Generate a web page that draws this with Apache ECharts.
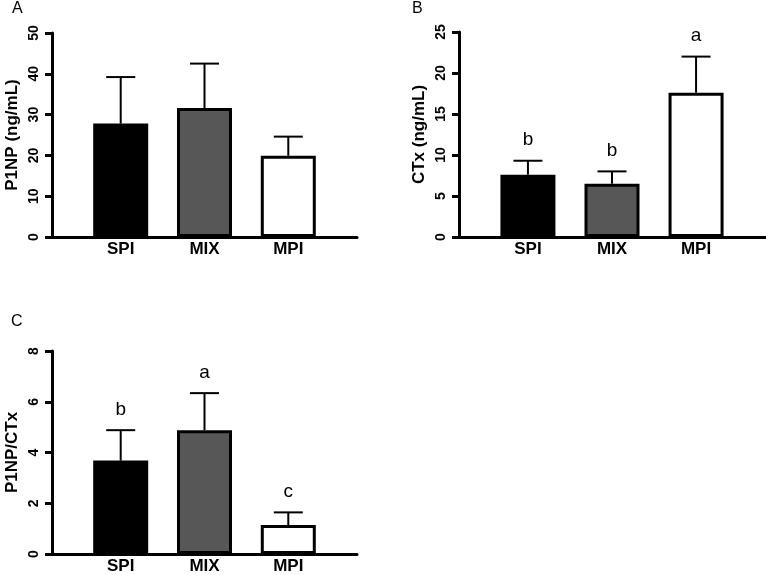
<!DOCTYPE html>
<html>
<head>
<meta charset="utf-8">
<script src="https://cdn.jsdelivr.net/npm/echarts@6/dist/echarts.min.js"></script>
<style>
  html, body { margin: 0; padding: 0; background: #fff; }
  #main { width: 766px; height: 575px; }
</style>
</head>
<body>
<div id="main"></div>
<script>
// groups on the x axis (positions 1, 2, 3)
const groups = ['SPI', 'MIX', 'MPI'];
const fills = ['#000000', '#575757', '#ffffff'];

// A: P1NP (ng/mL)
const p1npMean = [27.8, 31.6, 19.9];
const p1npUpper = [39.2, 42.5, 24.6];
// B: CTx (ng/mL)
const ctxMean = [7.6, 6.5, 17.6];
const ctxUpper = [9.3, 8.0, 22.0];
const ctxLetters = ['b', 'b', 'a'];
// C: P1NP/CTx
const ratioMean = [3.68, 4.88, 1.14];
const ratioUpper = [4.88, 6.34, 1.64];
const ratioLetters = ['b', 'a', 'c'];

const FONT = 'Liberation Sans, Arial, Helvetica, sans-serif';

const chart = echarts.init(document.getElementById('main'));

function xAxisFor(gridIndex) {
  return {
    type: 'value',
    gridIndex: gridIndex,
    min: 0.18,
    max: 3.82,
    axisLine: { onZero: false, lineStyle: { color: '#000', width: 3 } },
    axisTick: { show: false },
    splitLine: { show: false },
    axisLabel: {
      customValues: [1, 2, 3],
      formatter: (v) => groups[Math.round(v) - 1] || '',
      color: '#000',
      fontFamily: FONT,
      fontWeight: 'bold',
      fontSize: 17,
      margin: 4,
    },
  };
}

function yAxisFor(gridIndex, max, interval, name) {
  return {
    type: 'value',
    gridIndex: gridIndex,
    min: 0,
    max: max,
    interval: interval,
    name: name,
    nameLocation: 'middle',
    nameGap: 31,
    nameTextStyle: { color: '#000', fontFamily: FONT, fontWeight: 'bold', fontSize: 17 },
    axisLine: { show: true, onZero: false, lineStyle: { color: '#000', width: 3 } },
    axisTick: { show: true, length: 7, lineStyle: { color: '#000', width: 3 } },
    splitLine: { show: false },
    axisLabel: {
      rotate: 90,
      margin: 11,
      color: '#000',
      fontFamily: FONT,
      fontWeight: 'bold',
      fontSize: 14,
    },
  };
}

function barSeries(idx, means) {
  return {
    type: 'bar',
    xAxisIndex: idx,
    yAxisIndex: idx,
    barWidth: 55,
    data: means.map((v, i) => ({
      value: [i + 1, v],
      itemStyle: { color: fills[i], borderColor: '#000', borderWidth: 3 },
    })),
    silent: true,
    z: 2,
  };
}

function errorSeries(idx, means, upper) {
  return {
    type: 'custom',
    xAxisIndex: idx,
    yAxisIndex: idx,
    data: means.map((v, i) => [i + 1, v, upper[i]]),
    z: 3,
    silent: true,
    renderItem: function (params, api) {
      const x = api.value(0);
      const p0 = api.coord([x, api.value(1)]);
      const p1 = api.coord([x, api.value(2)]);
      const style = { stroke: '#000', lineWidth: 2 };
      return {
        type: 'group',
        children: [
          { type: 'line', shape: { x1: p0[0], y1: p0[1], x2: p1[0], y2: p1[1] }, style: style },
          { type: 'line', shape: { x1: p1[0] - 14.5, y1: p1[1], x2: p1[0] + 14.5, y2: p1[1] }, style: style },
        ],
      };
    },
  };
}

function letterSeries(idx, upper, letters) {
  return {
    type: 'custom',
    xAxisIndex: idx,
    yAxisIndex: idx,
    data: upper.map((v, i) => [i + 1, v, i]),
    z: 4,
    silent: true,
    renderItem: function (params, api) {
      const p = api.coord([api.value(0), api.value(1)]);
      return {
        type: 'text',
        x: p[0],
        y: p[1] - 11,
        style: {
          text: letters[api.value(2)],
          fill: '#000',
          font: '19px ' + FONT,
          textAlign: 'center',
          textVerticalAlign: 'bottom',
        },
      };
    },
  };
}

chart.setOption({
  backgroundColor: '#fff',
  animation: false,
  title: [
    { text: 'A', left: 12, top: 1, padding: 0, textStyle: { fontFamily: FONT, fontWeight: 'normal', fontSize: 16, color: '#000' } },
    { text: 'B', left: 412, top: 1, padding: 0, textStyle: { fontFamily: FONT, fontWeight: 'normal', fontSize: 16, color: '#000' } },
    { text: 'C', left: 11, top: 314, padding: 0, textStyle: { fontFamily: FONT, fontWeight: 'normal', fontSize: 16, color: '#000' } },
  ],
  grid: [
    { left: 52, top: 33, width: 305, height: 204 },
    { left: 459, top: 32, width: 306, height: 205 },
    { left: 52, top: 351, width: 305, height: 205 },
  ],
  xAxis: [xAxisFor(0), xAxisFor(1), xAxisFor(2)],
  yAxis: [
    yAxisFor(0, 50, 10, 'P1NP (ng/mL)'),
    yAxisFor(1, 25, 5, 'CTx (ng/mL)'),
    yAxisFor(2, 8, 2, 'P1NP/CTx'),
  ],
  series: [
    barSeries(0, p1npMean),
    errorSeries(0, p1npMean, p1npUpper),
    barSeries(1, ctxMean),
    errorSeries(1, ctxMean, ctxUpper),
    letterSeries(1, ctxUpper, ctxLetters),
    barSeries(2, ratioMean),
    errorSeries(2, ratioMean, ratioUpper),
    letterSeries(2, ratioUpper, ratioLetters),
  ],
});
</script>
</body>
</html>
